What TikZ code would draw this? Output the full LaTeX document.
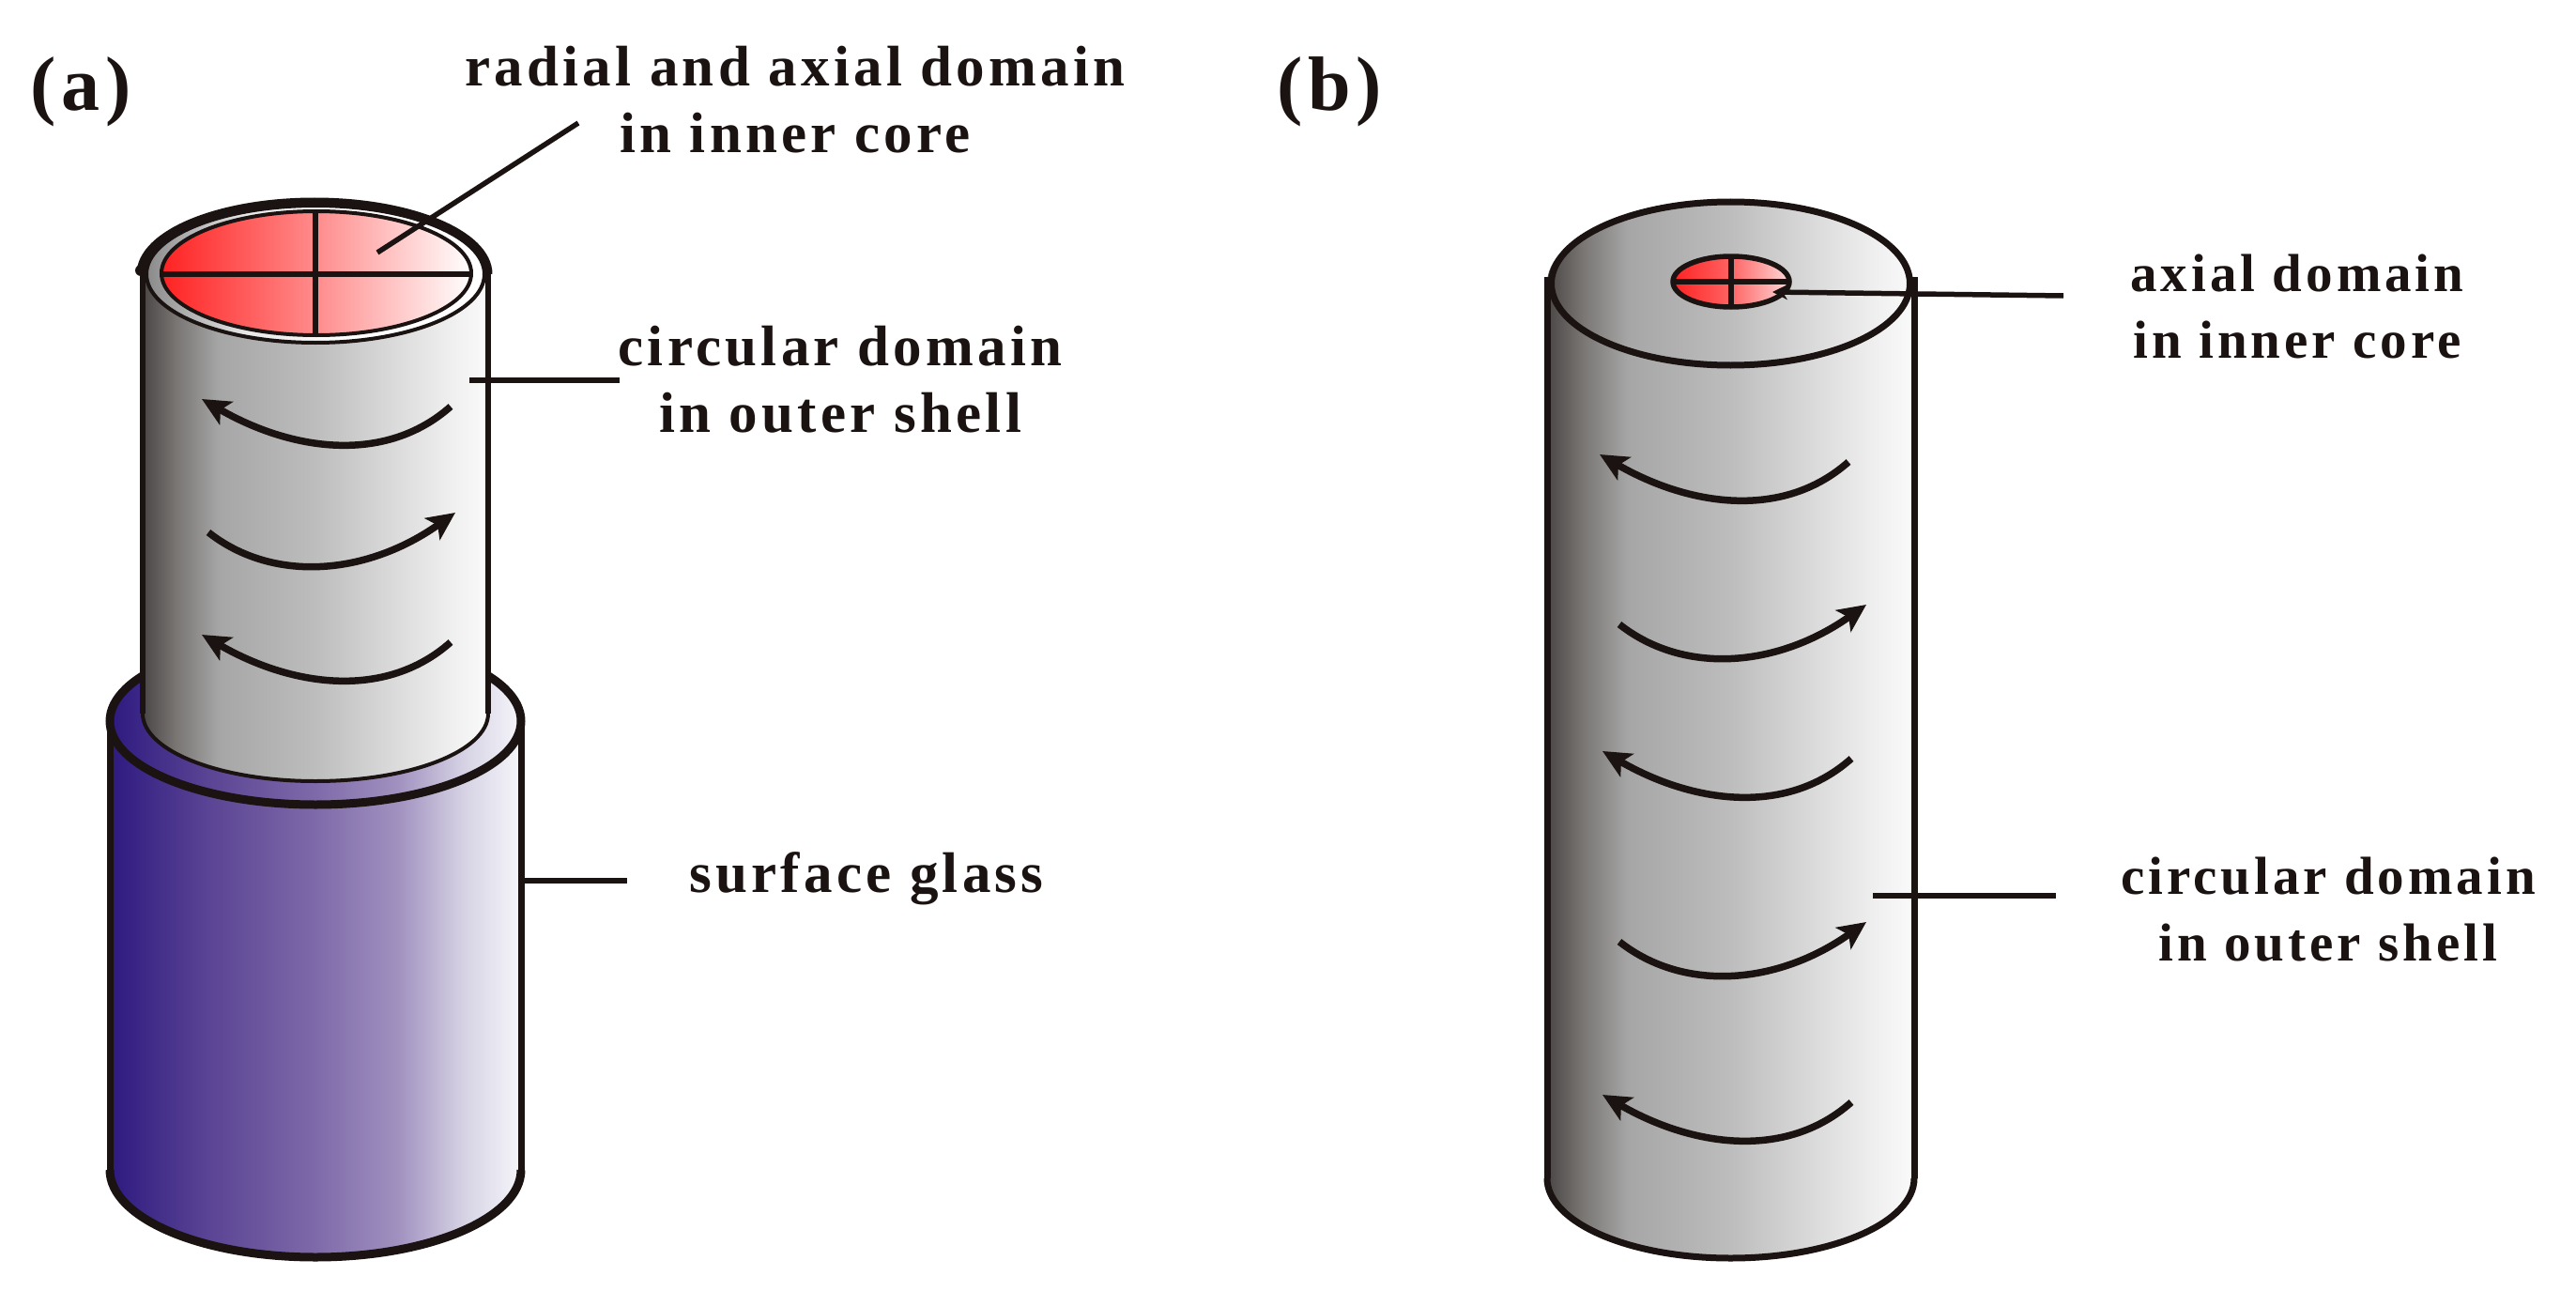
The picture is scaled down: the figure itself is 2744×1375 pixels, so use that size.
\documentclass[tikz,border=0pt]{standalone}
\usepackage{fontspec}
\setmainfont{Liberation Serif}[LetterSpace=7]
\usetikzlibrary{arrows.meta}
\definecolor{ink}{HTML}{1A1311}
\definecolor{steelA}{HTML}{4A4645}
\definecolor{steelB}{HTML}{7A7775}
\definecolor{steelC}{HTML}{A6A6A6}
\definecolor{steelD}{HTML}{BDBDBD}
\definecolor{steelE}{HTML}{DCDCDC}
\definecolor{steelG}{HTML}{F0F0F0}
\definecolor{steelF}{HTML}{FAFAFA}
\definecolor{ringA}{HTML}{8A8A8A}
\definecolor{ringB}{HTML}{E8E8E8}
\definecolor{glassA}{HTML}{2E1A80}
\definecolor{glassB}{HTML}{5A4494}
\definecolor{glassC}{HTML}{7E6AA9}
\definecolor{glassD}{HTML}{A091BF}
\definecolor{glassE}{HTML}{D6D2E4}
\definecolor{glassF}{HTML}{F6F6FA}
\definecolor{redA}{HTML}{FF2222}
\definecolor{redB}{HTML}{FF8C8C}
\definecolor{redC}{HTML}{FF6464}
\definecolor{redD}{HTML}{FFD8D8}
\pgfdeclarehorizontalshading{steel}{100bp}{
 color(0bp)=(steelA); color(25bp)=(steelA); color(30bp)=(steelB); color(36bp)=(steelC);
 color(50bp)=(steelD); color(62bp)=(steelE); color(70bp)=(steelG); color(75bp)=(steelF); color(100bp)=(steelF)}
\pgfdeclarehorizontalshading{ringshade}{100bp}{
 color(0bp)=(ringA); color(25bp)=(ringA); color(40bp)=(ringB); color(55bp)=(white); color(100bp)=(white)}
\pgfdeclarehorizontalshading{glass}{100bp}{
 color(0bp)=(glassA); color(25bp)=(glassA); color(37bp)=(glassB); color(50bp)=(glassC);
 color(60bp)=(glassD); color(68bp)=(glassE); color(75bp)=(glassF); color(100bp)=(glassF)}
\pgfdeclarehorizontalshading{redcore}{100bp}{
 color(0bp)=(redA); color(25bp)=(redA); color(50bp)=(redB); color(75bp)=(white); color(100bp)=(white)}
\pgfdeclarehorizontalshading{redsmall}{100bp}{
 color(0bp)=(redA); color(25bp)=(redA); color(50bp)=(redC); color(75bp)=(redD); color(100bp)=(redD)}
\tikzset{
 outline/.style={draw=ink,line width=5.5pt},
 glass side/.style={draw=ink,line width=7pt},
 thick outline/.style={draw=ink,line width=9pt},
 thin outline/.style={draw=ink,line width=4pt},
 cross line/.style={draw=ink,line width=6pt},
 leader/.style={draw=ink,line width=5.5pt},
 swirlline/.style={draw=ink,line width=7.5pt,-{Stealth[length=30pt,width=28pt,inset=7pt]}},
 lab/.style={inner sep=0pt,align=center,text=ink,font=\fontsize{61}{71}\bfseries\selectfont},
 labsmall/.style={inner sep=0pt,align=center,text=ink,font=\fontsize{57}{71}\bfseries\selectfont},
 panel/.style={inner sep=0pt,text=ink,font=\fontsize{82}{90}\bfseries\selectfont},
 swirl left/.pic={\draw[swirlline] (0,0) .. controls (-70,62) and (-170,47) .. (-265,-8);},
 swirl right/.pic={\draw[swirlline] (0,0) .. controls (70,55) and (170,45) .. (263,-21);}
}
\begin{document}
\begin{tikzpicture}[x=1pt,y=-1pt]
\useasboundingbox (0,0) rectangle (2744,1375);
% ---- (a) glass sleeve
\shade[shading=glass] (117,768) arc[start angle=180,end angle=0,x radius=219pt,y radius=89pt]
  -- (555,1246) arc[start angle=0,end angle=-180,x radius=219pt,y radius=93pt] -- cycle;
\draw[thick outline] (336,768) ellipse[x radius=219pt,y radius=89pt];
\draw[glass side] (117,768) -- (117,1246);
\draw[glass side] (555,768) -- (555,1246);
\draw[thick outline] (117,1246) arc[start angle=180,end angle=360,x radius=219pt,y radius=93pt];
% ---- (a) fibre
\shade[shading=steel] (152,290) arc[start angle=180,end angle=0,x radius=184pt,y radius=76pt]
  -- (520,760) arc[start angle=0,end angle=-180,x radius=184pt,y radius=72pt] -- cycle;
\draw[outline] (152,290) -- (152,760);
\draw[outline] (520,290) -- (520,760);
\draw[thin outline] (520,760) arc[start angle=0,end angle=-180,x radius=184pt,y radius=72pt];
\shade[shading=ringshade] (336,292) ellipse[x radius=180pt,y radius=73pt];
\draw[thin outline] (336,292) ellipse[x radius=180pt,y radius=73pt];
\shade[shading=redcore] (337,291) ellipse[x radius=165pt,y radius=66pt];
\draw[thin outline] (337,291) ellipse[x radius=165pt,y radius=66pt];
\draw[thick outline] (150,292) arc[start angle=180,end angle=0,x radius=185pt,y radius=77pt];
\fill[ink] (150,288) circle[radius=6pt];
\draw[cross line] (172,292) -- (502,292);
\draw[cross line] (336,225) -- (336,358);
\pic at (480,433) {swirl left};
\pic at (222,567) {swirl right};
\pic at (480,684) {swirl left};
% ---- (b) fibre
\shade[shading=steel] (1648,302) arc[start angle=180,end angle=0,x radius=195.5pt,y radius=87pt]
  -- (2039,1255) arc[start angle=0,end angle=-180,x radius=195.5pt,y radius=85pt] -- cycle;
\draw[glass side] (1843.5,302) ellipse[x radius=191pt,y radius=87pt];
\draw[glass side] (1648,295) -- (1648,1255);
\draw[glass side] (2039,295) -- (2039,1255);
\draw[glass side] (2039,1255) arc[start angle=0,end angle=-180,x radius=195.5pt,y radius=85pt];
\shade[shading=redsmall] (1844,300) ellipse[x radius=62pt,y radius=27pt];
\draw[outline] (1844,300) ellipse[x radius=62pt,y radius=27pt];
\draw[outline] (1782,300) -- (1906,300);
\draw[outline] (1844,273) -- (1844,327);
\pic at (1969,492) {swirl left};
\pic at (1725,665) {swirl right};
\pic at (1972,808) {swirl left};
\pic at (1725,1003) {swirl right};
\pic at (1972,1174) {swirl left};
% ---- labels
\node[panel] (pa) at (86,98) {(a)};
\node[panel] (pb) at (1416,98) {(b)};
\node[lab] (l1) at (847,106) {radial and axial domain\\in inner core};
\node[lab] (l2) at (895,404) {circular domain\\in outer shell};
\node[lab] (l3) at (923,936) {surface glass};
\node[labsmall] (l4) at (2447,327) {axial domain\\in inner core};
\node[labsmall] (l5) at (2480,969) {circular domain\\in outer shell};
% ---- leaders
\coordinate (t1a) at (402,269); \coordinate (t1b) at (616,131);
\coordinate (t2a) at (500,405); \coordinate (t2b) at (660,405);
\coordinate (t3a) at (557,938); \coordinate (t3b) at (668,938);
\coordinate (t4a) at (1888,311); \coordinate (t4b) at (2198,315);
\coordinate (t5a) at (1995,954); \coordinate (t5b) at (2190,954);
\draw[leader] (t1a) -- (t1b);
\draw[leader] (t2a) -- (t2b);
\draw[leader] (t3a) -- (t3b);
\draw[leader,{Stealth[length=16pt,width=16pt]}-] (t4a) -- (t4b);
\draw[leader] (t5a) -- (t5b);
\end{tikzpicture}
\end{document}
